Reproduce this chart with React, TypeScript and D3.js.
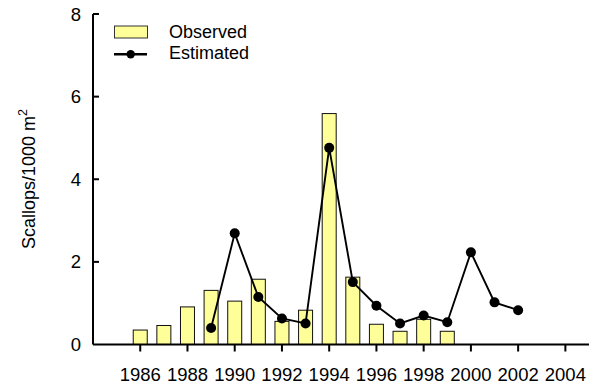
import React from "react";
import * as d3 from "d3";

const obsYears = [1986, 1987, 1988, 1989, 1990, 1991, 1992, 1993, 1994, 1995, 1996, 1997, 1998, 1999];
const obsValues = [0.35, 0.46, 0.91, 1.31, 1.05, 1.58, 0.56, 0.83, 5.59, 1.63, 0.49, 0.32, 0.61, 0.32];

const estYears = [1989, 1990, 1991, 1992, 1993, 1994, 1995, 1996, 1997, 1998, 1999, 2000, 2001, 2002];
const estValues = [0.4, 2.69, 1.15, 0.63, 0.51, 4.76, 1.51, 0.94, 0.51, 0.7, 0.54, 2.23, 1.02, 0.83];

const xTicks = [1986, 1988, 1990, 1992, 1994, 1996, 1998, 2000, 2002, 2004];
const yTicks = [0, 2, 4, 6, 8];

const W = 596;
const H = 385;
const FONT = "'Liberation Sans', Arial, sans-serif";
const BAR_FILL = "#ffff99";

export default function App() {
  const x = d3.scaleLinear().domain([1984, 2005]).range([93, 589]);
  const y = d3.scaleLinear().domain([0, 8]).range([344.5, 14]);
  const barW = 14;

  const line = d3
    .line<number>()
    .x((_, i) => x(estYears[i]))
    .y((d) => y(d));

  return (
    <svg
      width={W}
      height={H}
      style={{ position: "absolute", left: 0, top: 0, background: "#fff" }}
      fontFamily={FONT}
    >
      {/* bars: observed */}
      {obsValues.map((v, i) => (
        <rect
          key={obsYears[i]}
          x={x(obsYears[i]) - barW / 2}
          y={y(v)}
          width={barW}
          height={y(0) - y(v)}
          fill={BAR_FILL}
          stroke="#111"
          strokeWidth={1}
        />
      ))}

      {/* line: estimated */}
      <path d={line(estValues) || ""} fill="none" stroke="#000" strokeWidth={1.9} />
      {estValues.map((v, i) => (
        <circle key={estYears[i]} cx={x(estYears[i])} cy={y(v)} r={5} fill="#000" />
      ))}

      {/* axes */}
      <line x1={x.range()[0]} x2={x.range()[1]} y1={y(0)} y2={y(0)} stroke="#000" strokeWidth={2} />
      <line x1={x.range()[0]} x2={x.range()[0]} y1={y(0)} y2={y(8)} stroke="#000" strokeWidth={2} />

      {xTicks.map((t) => (
        <g key={t}>
          <line x1={x(t)} x2={x(t)} y1={y(0)} y2={y(0) + 7} stroke="#000" strokeWidth={2} />
          <text x={x(t)} y={381} textAnchor="middle" fontSize={18.5} fill="#000">
            {t}
          </text>
        </g>
      ))}

      {yTicks.map((t) => (
        <g key={t}>
          {t > 0 && (
            <line x1={x.range()[0]} x2={x.range()[0] + 6} y1={y(t)} y2={y(t)} stroke="#000" strokeWidth={2} />
          )}
          <text x={81} y={y(t) + 6.5} textAnchor="end" fontSize={18.5} fill="#000">
            {t}
          </text>
        </g>
      ))}

      {/* y-axis title */}
      <text
        transform={`translate(35, 179) rotate(-90)`}
        textAnchor="middle"
        fontSize={18}
        fill="#000"
      >
        Scallops/1000 m<tspan fontSize={12.5} dy={-8}>2</tspan>
      </text>

      {/* legend */}
      <rect x={114.5} y={26} width={33} height={12} fill={BAR_FILL} stroke="#333" strokeWidth={1} />
      <text x={169} y={38} fontSize={18} fill="#000">Observed</text>
      <line x1={114} x2={147} y1={54.3} y2={54.3} stroke="#000" strokeWidth={2.5} />
      <circle cx={130.7} cy={54.3} r={4.2} fill="#000" />
      <text x={169} y={58.5} fontSize={18} fill="#000">Estimated</text>
    </svg>
  );
}
